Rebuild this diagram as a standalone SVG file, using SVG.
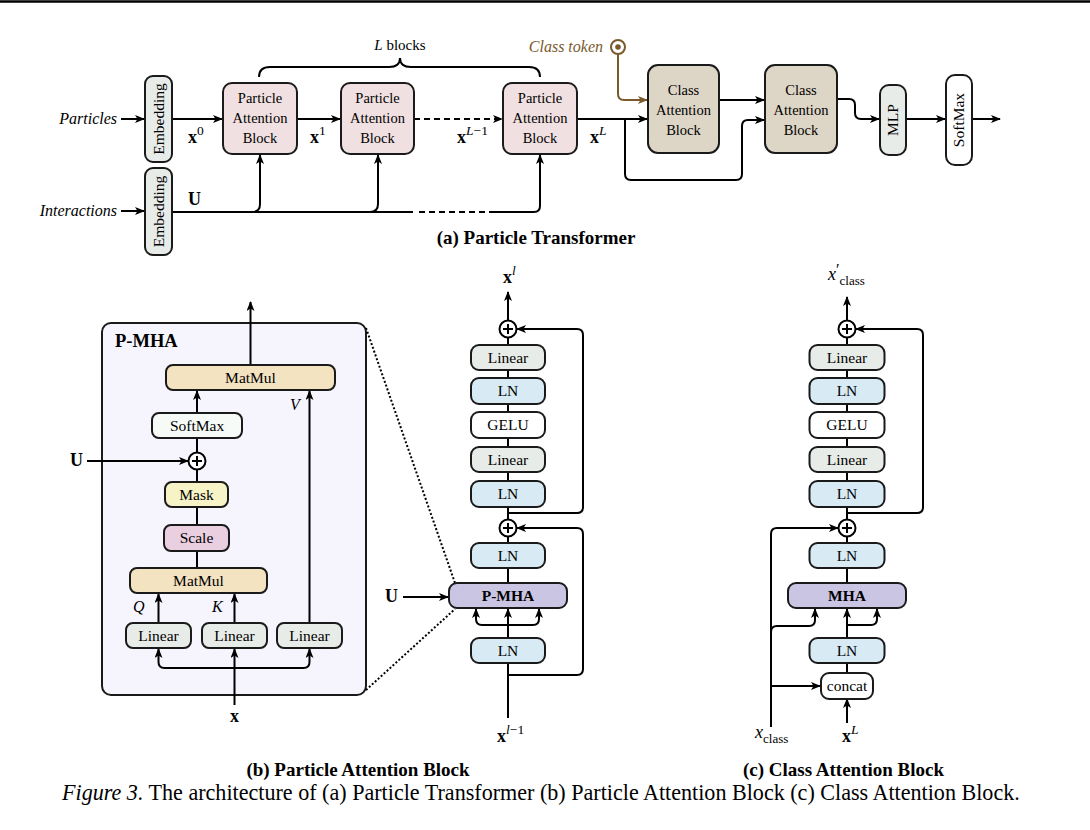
<svg xmlns="http://www.w3.org/2000/svg" width="1090" height="830" viewBox="0 0 1090 830">
<defs>
<marker id="ah" viewBox="0 0 10 8" refX="9" refY="4" markerWidth="10" markerHeight="8" markerUnits="userSpaceOnUse" orient="auto"><path d="M0,0 L10,4 L0,8 L2.5,4 z" fill="#000"/></marker>
<marker id="ahb" viewBox="0 0 10 8" refX="9" refY="4" markerWidth="10" markerHeight="8" markerUnits="userSpaceOnUse" orient="auto"><path d="M0,0 L10,4 L0,8 L2.5,4 z" fill="#7a5a2c"/></marker>
</defs>
<style>
.c{fill:none;stroke:#000;stroke-width:2}
.ca{fill:none;stroke:#000;stroke-width:2;marker-end:url(#ah)}
.dash{stroke-dasharray:6 4}
.dot{fill:none;stroke:#000;stroke-width:2;stroke-dasharray:2 2}
.b{stroke:#1a1a1a;stroke-width:2}
.emb{fill:#e8ece8}
.pab{fill:#f0e0e1}
.cab{fill:#ddd5c5}
.lin{fill:#e8ece8}
.ln{fill:#d8ebf4}
.mm{fill:#f4e3c1}
.mask{fill:#f6f3c7}
.scale{fill:#eacfe0}
.mha{fill:#cbc5e4}
.wh{fill:#ffffff}
.t{font-family:"Liberation Serif","Times New Roman",serif;fill:#000}
.lb{font-size:15.5px;text-anchor:middle}
.pl{font-size:14.5px;text-anchor:middle}
.it{font-style:italic}
.bd{font-weight:bold}
.cap{font-size:19px;font-weight:bold;text-anchor:middle}
.m{font-size:18px;font-weight:bold}
.sup{font-size:13.5px;font-weight:normal}
</style>
<rect x="0" y="0" width="1090" height="830" fill="#fff"/>
<line x1="0" y1="1.5" x2="1090" y2="1.5" stroke="#000" stroke-width="2.5"/>

<!-- (b) enclosing P-MHA panel (drawn first so connectors sit on top) -->
<g id="pmha-box"><rect x="102" y="323" width="264" height="372" rx="9" fill="#f6f5fd" stroke="#1a1a1a" stroke-width="2"/><text class="t bd" x="115" y="347" font-size="18.5">P-MHA</text></g>

<g id="connectors">
  <!-- (a) -->
  <path class="ca" d="M121 119 H144"/>
  <path class="ca" d="M121 211 H144"/>
  <path class="ca" d="M172 119 H222"/>
  <path class="ca" d="M297 119 H340"/>
  <path class="ca dash" d="M414 119 H502"/>
  <path class="c" d="M172 212 H413"/>
  <path class="c dash" d="M419 212 H490"/>
  <path class="ca" d="M490 212 H534 Q540 212 540 206 V155"/>
  <path class="ca" d="M252 212 Q260 212 260 204 V155"/>
  <path class="ca" d="M370 212 Q378 212 378 204 V155"/>
  <path class="c" d="M259 77 Q259 67 270 67 H389 Q400 67 400 58 Q400 67 411 67 H529 Q540 67 540 77"/>
  <path class="ca" d="M577 119 H647"/>
  <path class="ca" d="M625 119 V174 Q625 180 631 180 H736 Q742 180 742 174 V126 Q742 120 748 120 H764"/>
  <path fill="none" stroke="#7a5a2c" stroke-width="2" marker-end="url(#ahb)" d="M618 54 V94 Q618 100 624 100 H647"/>
  <path class="ca" d="M719 100 H764"/>
  <path class="ca" d="M837 99 H849 Q855 99 855 105 V113 Q855 119 861 119 H879"/>
  <path class="ca" d="M906 119 H945"/>
  <path class="ca" d="M972 119 H1000"/>
  <!-- (b) P-MHA -->
  <path class="ca" d="M250.5 365 V302"/>
  <path class="ca" d="M197 413 V391"/>
  <path class="ca" d="M309.5 623 V391"/>
  <path class="c" d="M197 438 V452.5"/>
  <path class="ca" d="M87 461 H188"/>
  <path class="c" d="M197 469.5 V482 M197 507 V525 M197 551 V568"/>
  <path class="ca" d="M158.5 623 V594"/>
  <path class="ca" d="M234.5 623 V594"/>
  <path class="ca" d="M234.5 705 V649"/>
  <path class="ca" d="M234.5 668 H164.5 Q158.5 668 158.5 662 V649"/>
  <path class="ca" d="M234.5 668 H303.5 Q309.5 668 309.5 662 V649"/>
  <path class="dot" d="M366 328 L455 583"/>
  <path class="dot" d="M366 690 L455 609"/>
  <!-- PAB column -->
  <path class="c" d="M508 718 V663"/>
  <path class="ca" d="M508 675 H577 Q583 675 583 669 V534 Q583 528 577 528 H517"/>
  <path class="ca" d="M508 638 V609"/>
  <path class="ca" d="M508 625 H482 Q476 625 476 619 V609"/>
  <path class="ca" d="M508 625 H533 Q539 625 539 619 V609"/>
  <path class="c" d="M508 583 V568 M508 543 V536.5 M508 519.5 V507"/>
  <path class="ca" d="M508 513 H577 Q583 513 583 507 V335 Q583 329 577 329 H517"/>
  <path class="c" d="M508 481 V472 M508 447 V438 M508 412 V404 M508 378 V370 M508 345 V337.5"/>
  <path class="ca" d="M508 320.5 V292"/>
  <path class="ca" d="M403 597 H448"/>
  <!-- CAB column -->
  <path class="ca" d="M771 727 V534 Q771 528 777 528 H838"/>
  <path class="ca" d="M771 632 Q771 626 777 626 H809 Q815 626 815 620 V609"/>
  <path class="ca" d="M771 686 H820"/>
  <path class="ca" d="M847 723 V699"/>
  <path class="c" d="M847 673 V663"/>
  <path class="ca" d="M847 638 V609"/>
  <path class="ca" d="M847 625 H871 Q877 625 877 619 V609"/>
  <path class="c" d="M847 583 V568 M847 543 V536.5 M847 519.5 V507"/>
  <path class="ca" d="M847 513 H917 Q923 513 923 507 V335 Q923 329 917 329 H856"/>
  <path class="c" d="M847 481 V472 M847 447 V438 M847 412 V404 M847 378 V370 M847 345 V337.5"/>
  <path class="ca" d="M847 320.5 V297"/>
</g>

<!-- (a) nodes -->
<g id="emb1"><rect class="b emb" x="145" y="76" width="27" height="86" rx="8"/><text class="t lb" transform="translate(158.5,119) rotate(-90)" y="5.3">Embedding</text></g>
<g id="emb2"><rect class="b emb" x="145" y="168" width="27" height="87" rx="8"/><text class="t lb" transform="translate(158.5,211.5) rotate(-90)" y="5.3">Embedding</text></g>
<g id="pab1"><rect class="b pab" x="223" y="83" width="74" height="71" rx="9"/><text class="t pl" x="260" y="103">Particle</text><text class="t pl" x="260" y="123">Attention</text><text class="t pl" x="260" y="142.5">Block</text></g>
<g id="pab2"><rect class="b pab" x="341" y="83" width="73" height="71" rx="9"/><text class="t pl" x="377.5" y="103">Particle</text><text class="t pl" x="377.5" y="123">Attention</text><text class="t pl" x="377.5" y="142.5">Block</text></g>
<g id="pab3"><rect class="b pab" x="503" y="83" width="74" height="71" rx="9"/><text class="t pl" x="540" y="103">Particle</text><text class="t pl" x="540" y="123">Attention</text><text class="t pl" x="540" y="142.5">Block</text></g>
<g id="cab1"><rect class="b cab" x="648" y="65" width="71" height="88" rx="10"/><text class="t pl" x="683.5" y="95">Class</text><text class="t pl" x="683.5" y="115">Attention</text><text class="t pl" x="683.5" y="135">Block</text></g>
<g id="cab2"><rect class="b cab" x="765" y="65" width="72" height="88" rx="10"/><text class="t pl" x="801" y="95">Class</text><text class="t pl" x="801" y="115">Attention</text><text class="t pl" x="801" y="135">Block</text></g>
<g id="mlp"><rect class="b emb" x="880" y="85" width="26" height="70" rx="9"/><text class="t lb" transform="translate(893,120) rotate(-90)" y="5.3">MLP</text></g>
<g id="softmax-a"><rect class="b wh" x="946" y="75" width="26" height="90" rx="9"/><text class="t lb" transform="translate(959,120) rotate(-90)" y="5.3">SoftMax</text></g>
<g id="class-token"><circle cx="618" cy="47" r="7" fill="#fff" stroke="#7a5a2c" stroke-width="2"/><circle cx="618" cy="47" r="2.8" fill="#7a5a2c"/><text class="t it" x="603" y="52" font-size="16" text-anchor="end" style="fill:#7a5a2c">Class token</text></g>
<g id="labels-a">
  <text class="t it" x="117" y="124" font-size="16" text-anchor="end">Particles</text>
  <text class="t it" x="117" y="216" font-size="16" text-anchor="end">Interactions</text>
  <text class="t m" x="188" y="143">x<tspan class="sup" dy="-8">0</tspan></text>
  <text class="t m" x="310" y="143">x<tspan class="sup" dy="-8">1</tspan></text>
  <text class="t m" x="457" y="143">x<tspan class="sup" dy="-8"><tspan font-style="italic">L</tspan>−1</tspan></text>
  <text class="t m" x="590" y="143">x<tspan class="sup it" dy="-8">L</tspan></text>
  <text class="t m" x="188" y="205">U</text>
  <text class="t" x="400" y="50" font-size="15" text-anchor="middle"><tspan font-style="italic">L</tspan> blocks</text>
  <text class="t cap" x="536" y="244">(a) Particle Transformer</text>
</g>

<!-- (b) P-MHA detail nodes -->
<g id="matmul-top"><rect class="b mm" x="166" y="365" width="169" height="25" rx="7"/><text class="t lb" x="250.5" y="382.8">MatMul</text></g>
<g id="softmax-b"><rect class="b" fill="#f7fbf7" x="152" y="413" width="90" height="25" rx="7"/><text class="t lb" x="197" y="430.8">SoftMax</text></g>
<g id="plus-b"><circle cx="197" cy="461" r="8.5" fill="#fff" stroke="#000" stroke-width="2"/><path class="c" d="M192 461 H202 M197 456 V466"/></g>
<g id="mask"><rect class="b mask" x="165" y="482" width="63" height="25" rx="7"/><text class="t lb" x="196.5" y="499.8">Mask</text></g>
<g id="scale"><rect class="b scale" x="164" y="525" width="65" height="26" rx="7"/><text class="t lb" x="196.5" y="543.3">Scale</text></g>
<g id="matmul-bot"><rect class="b mm" x="130" y="568" width="137" height="25" rx="7"/><text class="t lb" x="198.5" y="585.8">MatMul</text></g>
<g id="lin-q"><rect class="b lin" x="126" y="623" width="65" height="25" rx="7"/><text class="t lb" x="158.5" y="640.8">Linear</text></g>
<g id="lin-k"><rect class="b lin" x="202" y="623" width="65" height="25" rx="7"/><text class="t lb" x="234.5" y="640.8">Linear</text></g>
<g id="lin-v"><rect class="b lin" x="277" y="623" width="65" height="25" rx="7"/><text class="t lb" x="309.5" y="640.8">Linear</text></g>
<g id="labels-b">
  <text class="t it" x="133" y="612" font-size="16">Q</text>
  <text class="t it" x="212" y="612" font-size="16">K</text>
  <text class="t it" x="290" y="410" font-size="16">V</text>
  <text class="t m" x="70" y="466">U</text>
  <text class="t m" x="234.5" y="722" text-anchor="middle">x</text>
  <text class="t cap" x="358" y="776">(b) Particle Attention Block</text>
</g>

<!-- PAB column -->
<g id="pab-plus1"><circle cx="508" cy="329" r="8.5" fill="#fff" stroke="#000" stroke-width="2"/><path class="c" d="M503 329 H513 M508 324 V334"/></g>
<g id="pab-lin2"><rect class="b lin" x="471" y="345" width="74" height="25" rx="8"/><text class="t lb" x="508" y="362.8">Linear</text></g>
<g id="pab-ln3"><rect class="b ln" x="471" y="378" width="74" height="26" rx="8"/><text class="t lb" x="508" y="396.3">LN</text></g>
<g id="pab-gelu"><rect class="b wh" x="471" y="412" width="74" height="26" rx="8"/><text class="t lb" x="508" y="430.3">GELU</text></g>
<g id="pab-lin1"><rect class="b lin" x="471" y="447" width="74" height="25" rx="8"/><text class="t lb" x="508" y="464.8">Linear</text></g>
<g id="pab-ln2"><rect class="b ln" x="471" y="481" width="74" height="26" rx="8"/><text class="t lb" x="508" y="499.3">LN</text></g>
<g id="pab-plus2"><circle cx="508" cy="528" r="8.5" fill="#fff" stroke="#000" stroke-width="2"/><path class="c" d="M503 528 H513 M508 523 V533"/></g>
<g id="pab-ln1b"><rect class="b ln" x="471" y="543" width="74" height="25" rx="8"/><text class="t lb" x="508" y="560.8">LN</text></g>
<g id="pab-pmha"><rect class="b mha" x="449" y="583" width="118" height="25" rx="8"/><text class="t lb bd" x="508" y="600.8">P-MHA</text></g>
<g id="pab-ln1"><rect class="b ln" x="471" y="638" width="74" height="25" rx="8"/><text class="t lb" x="508" y="655.8">LN</text></g>
<g id="labels-pab">
  <text class="t m" x="503" y="283">x<tspan class="sup it" dy="-8">l</tspan></text>
  <text class="t m" x="497" y="742">x<tspan class="sup" dy="-8"><tspan font-style="italic">l</tspan>−1</tspan></text>
  <text class="t m" x="385" y="602">U</text>
</g>

<!-- CAB column -->
<g id="cab-plus1"><circle cx="847" cy="329" r="8.5" fill="#fff" stroke="#000" stroke-width="2"/><path class="c" d="M842 329 H852 M847 324 V334"/></g>
<g id="cab-lin2"><rect class="b lin" x="809.5" y="345" width="75" height="25" rx="8"/><text class="t lb" x="847" y="362.8">Linear</text></g>
<g id="cab-ln3"><rect class="b ln" x="809.5" y="378" width="75" height="26" rx="8"/><text class="t lb" x="847" y="396.3">LN</text></g>
<g id="cab-gelu"><rect class="b wh" x="809.5" y="412" width="75" height="26" rx="8"/><text class="t lb" x="847" y="430.3">GELU</text></g>
<g id="cab-lin1"><rect class="b lin" x="809.5" y="447" width="75" height="25" rx="8"/><text class="t lb" x="847" y="464.8">Linear</text></g>
<g id="cab-ln2"><rect class="b ln" x="809.5" y="481" width="75" height="26" rx="8"/><text class="t lb" x="847" y="499.3">LN</text></g>
<g id="cab-plus2"><circle cx="847" cy="528" r="8.5" fill="#fff" stroke="#000" stroke-width="2"/><path class="c" d="M842 528 H852 M847 523 V533"/></g>
<g id="cab-ln1b"><rect class="b ln" x="809.5" y="543" width="75" height="25" rx="8"/><text class="t lb" x="847" y="560.8">LN</text></g>
<g id="cab-mha"><rect class="b mha" x="788" y="583" width="118" height="25" rx="8"/><text class="t lb bd" x="847" y="600.8">MHA</text></g>
<g id="cab-ln1"><rect class="b ln" x="809.5" y="638" width="75" height="25" rx="8"/><text class="t lb" x="847" y="655.8">LN</text></g>
<g id="cab-concat"><rect class="b wh" x="821" y="673" width="52" height="26" rx="8"/><text class="t lb" x="847" y="691.3">concat</text></g>
<g id="labels-cab">
  <text class="t it" x="828" y="280" font-size="18">x<tspan font-size="16" font-style="normal" dy="-5">′</tspan><tspan font-size="13" font-style="normal" dy="10">class</tspan></text>
  <text class="t m" x="842" y="742">x<tspan class="sup it" dy="-8">L</tspan></text>
  <text class="t it" x="755" y="738" font-size="18">x<tspan font-size="13" font-style="normal" dy="5">class</tspan></text>
  <text class="t cap" x="843.5" y="776">(c) Class Attention Block</text>
</g>

<text class="t" x="62" y="800" font-size="22.1"><tspan font-style="italic">Figure 3.</tspan> The architecture of (a) Particle Transformer (b) Particle Attention Block (c) Class Attention Block.</text>
</svg>
